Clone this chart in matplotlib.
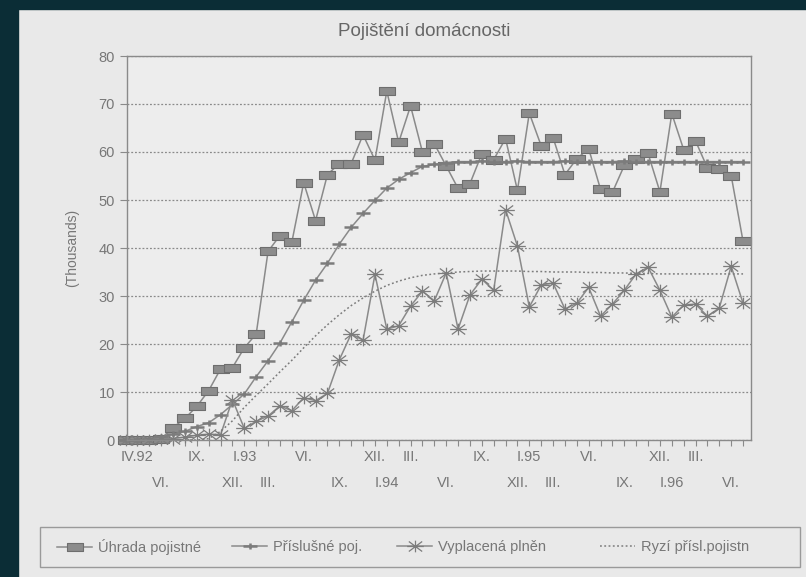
import numpy as np
import matplotlib.pyplot as plt
from matplotlib.path import Path
from matplotlib.lines import Line2D
from matplotlib.patches import Rectangle

plt.rcParams['font.family'] = ['Liberation Sans', 'DejaVu Sans']

# mesicni data, index 0 = III.92 (tisice)
uhrada = [0, 0, 0, 0.3, 2.6, 4.5, 7.0, 10.3, 14.8, 15.1,
          19.2, 22.1, 39.3, 42.6, 41.2, 53.6, 45.7, 55.3, 57.6, 57.6,
          63.6, 58.3, 72.7, 62.0, 69.6, 60.0, 61.7, 57.1, 52.4, 53.4,
          59.6, 58.4, 62.8, 52.0, 68.1, 61.3, 63.0, 55.3, 58.6, 60.7,
          52.2, 51.6, 57.2, 58.6, 59.7, 51.7, 68.0, 60.5, 62.3, 56.7,
          56.4, 55.1, 41.4]
prislusne = [0, 0, 0.2, 0.6, 1.2, 1.8, 2.8, 3.6, 5.3, 7.4,
             9.6, 13.2, 16.5, 20.2, 24.6, 29.1, 33.3, 36.8, 40.8, 44.3,
             47.2, 49.9, 52.5, 54.3, 55.7, 57.0, 57.4, 57.8, 58.0, 58.0,
             58.1, 58.0, 58.0, 58.1, 58.0, 58.0, 58.0, 58.1, 58.0, 58.0,
             58.0, 58.0, 58.1, 58.0, 58.0, 58.0, 58.0, 58.0, 58.0, 58.0,
             58.0, 58.0, 58.0]
vyplacena = [0, 0, 0, 0.3, 0.3, 0.6, 1.0, 1.2, 1.1, 8.4,
             2.4, 3.9, 5.0, 7.1, 6.1, 8.8, 8.2, 9.7, 16.7, 22.1,
             20.8, 34.5, 23.1, 23.8, 27.9, 31.0, 29.0, 34.8, 23.1, 30.2,
             33.5, 31.2, 48.0, 40.4, 27.7, 32.3, 32.7, 27.3, 28.5, 31.8,
             25.8, 28.3, 31.2, 34.6, 36.0, 31.2, 25.6, 28.1, 28.3, 25.8,
             27.5, 36.2, 28.5]
ryzi = [0, 0, 0, 0, 0, 0, 0, 0.3, 1.8, 4.0,
        6.8, 9.3, 11.7, 14.2, 16.6, 19.2, 21.7, 24.0, 26.1, 28.0,
        29.6, 31.0, 32.2, 33.1, 33.8, 34.3, 34.6, 34.8, 35.0, 35.1,
        35.2, 35.2, 35.2, 35.2, 35.1, 35.1, 35.0, 35.0, 35.0, 34.9,
        34.9, 34.8, 34.8, 34.7, 34.7, 34.6, 34.6, 34.6, 34.6, 34.6,
        34.6, 34.6, 34.6]
mesice = np.arange(len(uhrada))

# popisky osy x: horni a dolni rada se stridaji
horni_pos = [1, 6, 10, 15, 21, 24, 30, 34, 39, 45, 48]
horni = ['IV.92', 'IX.', 'I.93', 'VI.', 'XII.', 'III.', 'IX.', 'I.95',
         'VI.', 'XII.', 'III.']
dolni_pos = [3, 9, 12, 18, 22, 27, 33, 36, 42, 46, 51]
dolni = ['VI.', 'XII.', 'III.', 'IX.', 'I.94', 'VI.', 'XII.', 'III.',
         'IX.', 'I.96', 'VI.']
nazvy = ['Úhrada pojistné', 'Příslušné poj.', 'Vyplacená plněn',
         'Ryzí přísl.pojistn']

sedo = '#8a8a8a'
text_c = '#777777'

M, L, C = Path.MOVETO, Path.LINETO, Path.CLOSEPOLY
obdelnik = Path([(-1, -0.55), (1, -0.55), (1, 0.55), (-1, 0.55), (-1, -0.55)],
                [M, L, L, L, C])
krizek = Path([(-1, 0), (1, 0), (0, -0.45), (0, 0.45)], [M, L, M, L])
hvezda = Path([(-1, 0), (1, 0), (0, -0.7), (0, 0.7),
               (-0.8, -0.6), (0.8, 0.6), (-0.8, 0.6), (0.8, -0.6)],
              [M, L, M, L, M, L, M, L])

fig = plt.figure(figsize=(8.06, 5.77), dpi=100)
fig.patch.set_facecolor('#e9e9e9')
ax = fig.add_axes([127/806, 1-440/577, 624/806, 384/577])
ax.set_facecolor('#ededed')

styly = [
    dict(color=sedo, lw=1.1, marker=obdelnik, ms=11.5, mfc='#8c8c8c', mec='#6e6e6e', mew=0.8),
    dict(color=sedo, lw=1.1, marker=krizek, ms=10, mfc='none', mec='#7c7c7c', mew=1.8),
    dict(color=sedo, lw=1.1, marker=hvezda, ms=12, mfc='none', mec='#7c7c7c', mew=0.9),
    dict(color='#7c7c7c', lw=1.1, ls=(0, (1.2, 1.6))),
]
for data, st in zip([uhrada, prislusne, vyplacena, ryzi], styly):
    ax.plot(mesice, data, clip_on=False, **st)

ax.set_xlim(0.12, 52.67)
ax.set_ylim(0, 80)
ax.set_yticks(range(0, 81, 10))
ax.yaxis.grid(True, linestyle=(0, (1.5, 1.5)), color=sedo, lw=0.9)
ax.set_axisbelow(True)

ax.set_xticks(horni_pos)
ax.set_xticklabels(horni)
ostatni = [m for m in range(1, 53) if m not in horni_pos]
ax.set_xticks(ostatni, minor=True)
ax.set_xticklabels([dolni[dolni_pos.index(m)] if m in dolni_pos else ''
                    for m in ostatni], minor=True)

ax.tick_params(axis='x', which='major', length=4, width=0.8, color=sedo,
               pad=2.9, labelsize=10.5, labelcolor=text_c)
ax.tick_params(axis='x', which='minor', length=4, width=0.8, color=sedo,
               pad=21.6, labelsize=10.5, labelcolor=text_c)
ax.tick_params(axis='y', length=5, width=0.8, color=sedo, pad=3.6,
               labelsize=10.5, labelcolor=text_c)
for s in ax.spines.values():
    s.set_color(sedo)
    s.set_linewidth(1)

ax.set_ylabel('(Thousands)', fontsize=10, color=text_c, labelpad=14)

fig.text(424/806, 1-32/577, 'Pojištění domácnosti', ha='center', va='center',
         fontsize=13.5, color='#666666')

# legenda
fig.patches.append(Rectangle((40/806, 1-567/577), 760/806, 40/577,
                             transform=fig.transFigure, fill=False,
                             ec='#9a9a9a', lw=1))
leg_x = [57, 232, 397, 600]
for st, nazev, x in zip(styly, nazvy, leg_x):
    h = Line2D([], [], **st)
    fig.legend(handles=[h], labels=[nazev], loc='center left',
               bbox_to_anchor=(x/806, 1-547/577), frameon=False,
               handlelength=2.4, handletextpad=0.4, borderpad=0,
               borderaxespad=0, fontsize=10.5, labelcolor=text_c)

# tmavy okraj skenu
fig.patches.append(Rectangle((0, 0), 18/806, 1, transform=fig.transFigure,
                             color='#0b2d36', zorder=5))
fig.patches.append(Rectangle((0, 1-9/577), 1, 9/577, transform=fig.transFigure,
                             color='#0b2d36', zorder=5))

fig.savefig('out.png', dpi=100, facecolor=fig.get_facecolor())
